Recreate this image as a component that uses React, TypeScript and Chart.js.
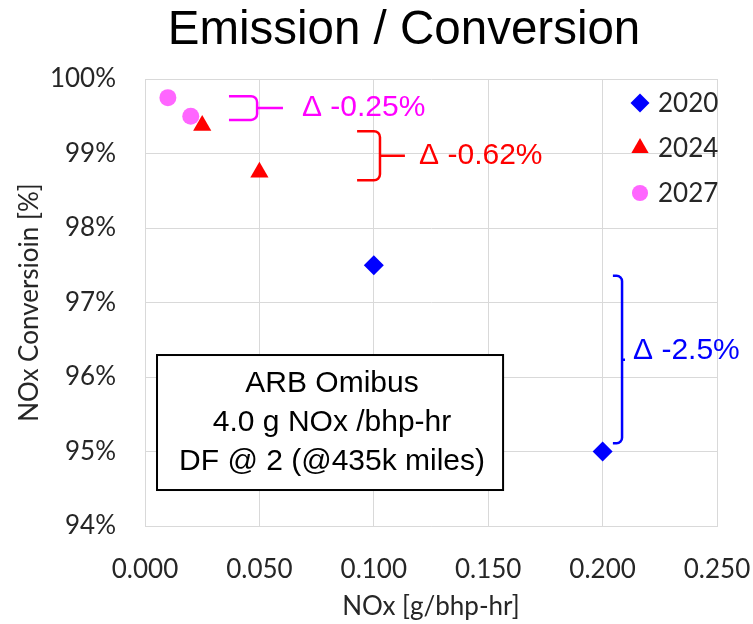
import React, { useEffect, useRef } from "react";
import { Chart, registerables } from "chart.js";
Chart.register(...registerables);

const TITLE = "Emission / Conversion";
const SERIES_NAMES = ["2020", "2024", "2027"];
const NOX_2020 = [0.1, 0.2];
const CONV_2020 = [97.5, 95.0];
const NOX_2024 = [0.025, 0.05];
const CONV_2024 = [99.375, 98.75];
const NOX_2027 = [0.01, 0.02];
const CONV_2027 = [99.75, 99.5];
const X_TICKS = [0, 0.05, 0.1, 0.15, 0.2, 0.25];
const Y_TICKS = [94, 95, 96, 97, 98, 99, 100];
const X_TITLE = "NOx [g/bhp-hr]";
const Y_TITLE = "NOx Conversioin [%]";
const DELTA_LABELS = ["Δ -0.25%", "Δ -0.62%", "Δ -2.5%"];
// bracket spans in data units: [xLeft, xVert, xTip, yTop, yBottom, yMid, xText]
const DELTA_BRACKETS = [
  [0.0367, 0.049, 0.0603, 99.77, 99.45, 99.61, 0.0686],
  [0.0927, 0.1027, 0.1136, 99.3, 98.64, 98.97, 0.1198],
  [0.2045, 0.2085, 0.2098, 97.36, 95.11, 96.23, 0.2133],
];
const BOX_LINES = ["ARB Omibus", "4.0 g NOx /bhp-hr", "DF @ 2 (@435k miles)"];
const BOX_RANGE = [0.00525, 0.1565, 96.295, 94.483];

const BLUE = "#0000FF";
const RED = "#FF0000";
const PINK = "#FF66FF";
const MAGENTA = "#FF00FF";
const DELTA_COLORS = [MAGENTA, RED, BLUE];
const SERIES_COLORS = [BLUE, RED, PINK];
const SERIES_STYLES = ["rectRot", "triangle", "circle"];
const SERIES_RADII = [10, 10.5, 8.5];

const TICK_FONT = "Lato";
const ARIAL = "'Liberation Sans', Arial, sans-serif";

function drawMarker(ctx: CanvasRenderingContext2D, style: string, x: number, y: number, r: number, color: string) {
  ctx.save();
  ctx.fillStyle = color;
  ctx.beginPath();
  if (style === "rectRot") {
    ctx.moveTo(x - r, y);
    ctx.lineTo(x, y - r);
    ctx.lineTo(x + r, y);
    ctx.lineTo(x, y + r);
  } else if (style === "triangle") {
    const h = r * Math.sqrt(3) / 2;
    ctx.moveTo(x, y - r);
    ctx.lineTo(x + h, y + r / 2);
    ctx.lineTo(x - h, y + r / 2);
  } else {
    ctx.arc(x, y, r, 0, Math.PI * 2);
  }
  ctx.closePath();
  ctx.fill();
  ctx.restore();
}

function drawBracket(ctx: CanvasRenderingContext2D, xl: number, xv: number, xt: number, yt: number, yb: number, ym: number, color: string) {
  const r = Math.min(6, (xv - xl) * 0.6);
  ctx.save();
  ctx.strokeStyle = color;
  ctx.lineWidth = 2.5;
  ctx.lineJoin = "round";
  ctx.beginPath();
  ctx.moveTo(xl, yt);
  ctx.arcTo(xv, yt, xv, ym, r);
  ctx.lineTo(xv, yb - r);
  ctx.arcTo(xv, yb, xl, yb, r);
  ctx.lineTo(xl, yb);
  ctx.moveTo(xv, ym);
  ctx.lineTo(xt, ym);
  ctx.stroke();
  ctx.restore();
}

const decorPlugin = {
  id: "decor",
  afterDraw(chart: any) {
    const ctx: CanvasRenderingContext2D = chart.ctx;
    const xs = chart.scales.x;
    const ys = chart.scales.y;
    const area = chart.chartArea;

    // title
    ctx.save();
    ctx.fillStyle = "#000";
    ctx.font = `47.5px ${ARIAL}`;
    ctx.textAlign = "center";
    ctx.textBaseline = "alphabetic";
    ctx.fillText(TITLE, 404, 44);
    ctx.restore();

    // legend
    SERIES_NAMES.forEach((name, i) => {
      const y = area.top + 24 + i * 45;
      drawMarker(ctx, SERIES_STYLES[i], area.right - 77, y, SERIES_RADII[i] * 0.95, SERIES_COLORS[i]);
      ctx.save();
      ctx.fillStyle = "#262626";
      ctx.font = `26px ${TICK_FONT}`;
      ctx.textAlign = "left";
      ctx.textBaseline = "middle";
      ctx.fillText(name, area.right - 59, y + 1);
      ctx.restore();
    });

    // delta brackets
    DELTA_BRACKETS.forEach((b, i) => {
      const [xl, xv, xt, yt, yb, ym, xtext] = b;
      drawBracket(
        ctx,
        xs.getPixelForValue(xl),
        xs.getPixelForValue(xv),
        xs.getPixelForValue(xt),
        ys.getPixelForValue(yt),
        ys.getPixelForValue(yb),
        ys.getPixelForValue(ym),
        DELTA_COLORS[i]
      );
      ctx.save();
      ctx.fillStyle = DELTA_COLORS[i];
      ctx.font = `30px ${ARIAL}`;
      ctx.textAlign = "left";
      ctx.textBaseline = "middle";
      ctx.fillText(DELTA_LABELS[i], xs.getPixelForValue(xtext), ys.getPixelForValue(ym) - (i === 2 ? 9 : 0));
      ctx.restore();
    });

    // text box
    const bl = xs.getPixelForValue(BOX_RANGE[0]);
    const br = xs.getPixelForValue(BOX_RANGE[1]);
    const bt = ys.getPixelForValue(BOX_RANGE[2]);
    const bb = ys.getPixelForValue(BOX_RANGE[3]);
    ctx.save();
    ctx.fillStyle = "#fff";
    ctx.fillRect(bl, bt, br - bl, bb - bt);
    ctx.strokeStyle = "#000";
    ctx.lineWidth = 2;
    ctx.strokeRect(bl, bt, br - bl, bb - bt);
    ctx.fillStyle = "#000";
    ctx.font = `30px ${ARIAL}`;
    ctx.textAlign = "center";
    ctx.textBaseline = "middle";
    const cx = (bl + br) / 2;
    const cy = (bt + bb) / 2;
    BOX_LINES.forEach((line, i) => {
      ctx.fillText(line, cx + 2, cy + (i - 1) * 39);
    });
    ctx.restore();
  },
};

const zeroPad = (s: any) => {
  s.paddingLeft = 0;
  s.paddingRight = 0;
  s.paddingTop = 0;
  s.paddingBottom = 0;
};

export default function App() {
  const ref = useRef<HTMLCanvasElement | null>(null);
  useEffect(() => {
    if (!ref.current) return;
    const mk = (xs: number[], ys: number[]) => xs.map((x, i) => ({ x, y: ys[i] }));
    const series = [mk(NOX_2020, CONV_2020), mk(NOX_2024, CONV_2024), mk(NOX_2027, CONV_2027)];
    const chart = new Chart(ref.current, {
      type: "scatter",
      data: {
        datasets: SERIES_NAMES.map((name, i) => ({
          label: name,
          data: series[i],
          pointStyle: SERIES_STYLES[i] as any,
          pointRadius: SERIES_RADII[i],
          pointBackgroundColor: SERIES_COLORS[i],
          pointBorderColor: SERIES_COLORS[i],
          pointBorderWidth: 0,
          showLine: false,
        })),
      },
      options: {
        animation: false,
        responsive: false,
        maintainAspectRatio: false,
        layout: { padding: { top: 79, right: 36, left: 0, bottom: 0 } },
        plugins: { legend: { display: false }, title: { display: false }, tooltip: { enabled: false } },
        scales: {
          x: {
            type: "linear",
            min: 0,
            max: 0.25,
            afterBuildTicks: (s: any) => {
              s.ticks = X_TICKS.map((v) => ({ value: v }));
            },
            afterFit: (s: any) => {
              s.height = 98;
              zeroPad(s);
            },
            grid: { color: "#d9d9d9", drawTicks: false, lineWidth: 1 },
            border: { color: "#d9d9d9" },
            ticks: {
              padding: 28,
              color: "#262626",
              font: { family: TICK_FONT, size: 26 },
              maxRotation: 0,
              callback: (v: any) => Number(v).toFixed(3),
            },
            title: {
              display: true,
              text: X_TITLE,
              color: "#262626",
              font: { family: TICK_FONT, size: 26 },
              padding: { top: 0, bottom: 2 },
            },
          },
          y: {
            type: "linear",
            min: 94,
            max: 100,
            afterBuildTicks: (s: any) => {
              s.ticks = Y_TICKS.map((v) => ({ value: v }));
            },
            afterFit: (s: any) => {
              s.width = 145;
              zeroPad(s);
            },
            grid: { color: "#d9d9d9", drawTicks: false, lineWidth: 1 },
            border: { color: "#d9d9d9" },
            ticks: {
              padding: 29,
              color: "#262626",
              font: { family: TICK_FONT, size: 26 },
              callback: (v: any) => `${v}%`,
            },
            title: {
              display: true,
              text: Y_TITLE,
              color: "#262626",
              font: { family: TICK_FONT, size: 26 },
              padding: { top: 14, bottom: 0 },
            },
          },
        },
      },
      plugins: [decorPlugin],
    });
    return () => chart.destroy();
  }, []);
  return (
    <div style={{ position: "fixed", left: 0, top: 0, width: 753, height: 624, background: "#fff" }}>
      <canvas ref={ref} width={753} height={624} style={{ width: 753, height: 624 }} />
    </div>
  );
}
